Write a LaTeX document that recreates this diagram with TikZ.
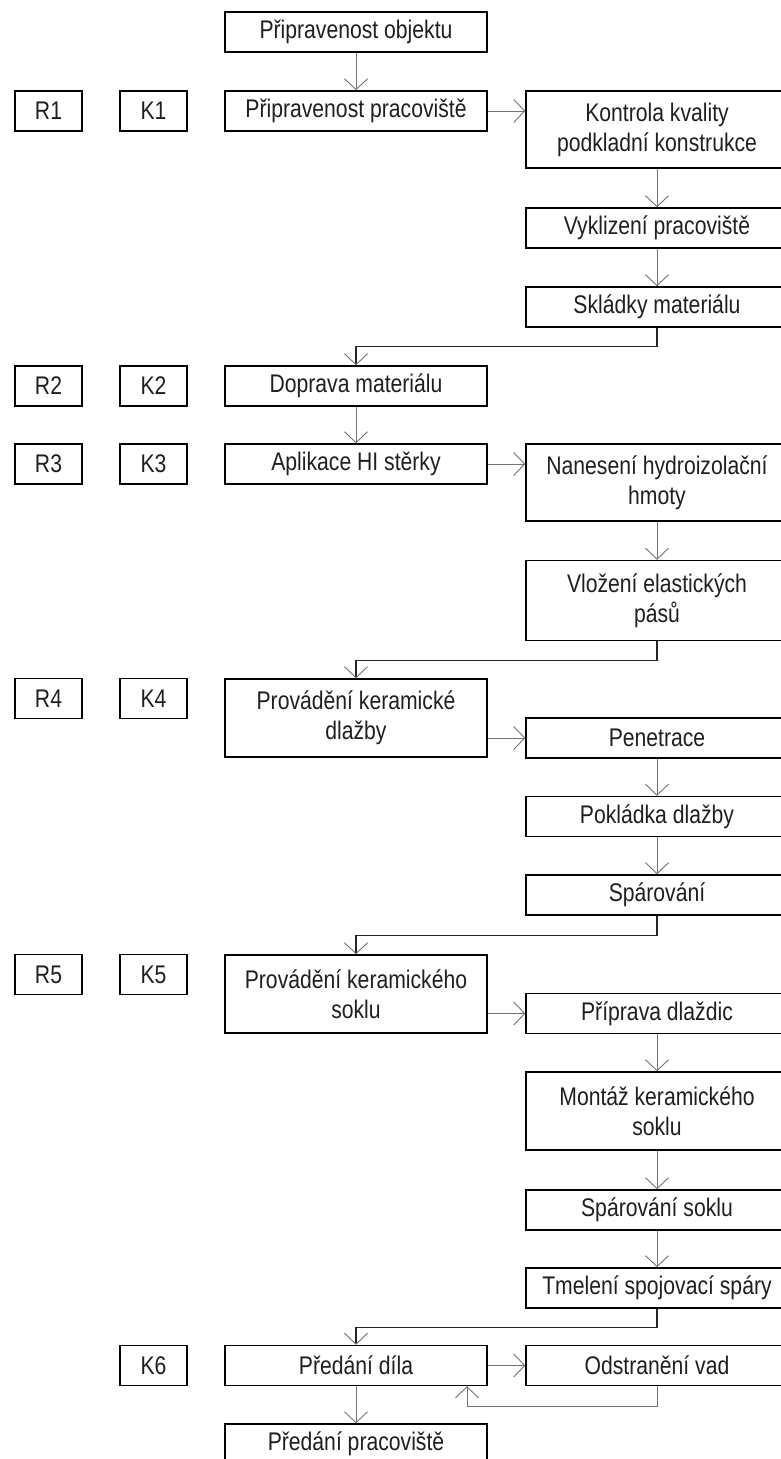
\documentclass[tikz,border=0pt]{standalone}
\usepackage{fontspec}
\setmainfont[FakeStretch=0.83]{Liberation Sans}
\usetikzlibrary{arrows.meta}
\begin{document}
\begin{tikzpicture}[x=1pt,y=-1pt,
  box/.style={draw=black, line width=1.4pt, minimum width=262pt, inner sep=0pt, align=center, text=black!88, font=\fontsize{25.5}{30}\selectfont},
  one/.style={box, minimum height=40pt},
  two/.style={box, minimum height=78pt},
  tag/.style={box, minimum width=67pt, minimum height=40pt},
  arr/.style={draw=black!55, line width=0.9pt, -{Straight Barb[length=11pt,width=23pt,line width=0.9pt]}},
  elb/.style={draw=black!85, line width=1.3pt, -{Straight Barb[length=11pt,width=23pt,line width=0.9pt,color=black!55]}}
]
\clip (0,0) rectangle (781,1459);
% left column
\node[one] (obj) at (356,32) {Připravenost objektu};
\node[one] (pp)  at (356,111) {Připravenost pracoviště};
\node[tag] (r1) at (48.5,111) {R1};
\node[tag] (k1) at (153.5,111) {K1};
\node[box, minimum height=77pt] (kk) at (657,129.5) {Kontrola kvality\\podkladní konstrukce};
\node[one] (vy) at (657,228) {Vyklizení pracoviště};
\node[one] (sk) at (657,307) {Skládky materiálu};
\node[one] (dm) at (356,386) {Doprava materiálu};
\node[tag] (r2) at (48.5,386) {R2};
\node[tag] (k2) at (153.5,386) {K2};
\node[one] (hi) at (356,464) {Aplikace HI stěrky};
\node[tag] (r3) at (48.5,464) {R3};
\node[tag] (k3) at (153.5,464) {K3};
\node[box, minimum height=77pt] (nh) at (657,482.5) {Nanesení hydroizolační\\hmoty};
\node[box, minimum height=80pt] (ve) at (657,600.5) {Vložení elastických\\pásů};
\node[two] (pd) at (356,718) {Provádění keramické\\dlažby};
\node[tag] (r4) at (48.5,698.5) {R4};
\node[tag] (k4) at (153.5,698.5) {K4};
\node[one] (pe) at (657,738) {Penetrace};
\node[one] (po) at (657,816.5) {Pokládka dlažby};
\node[one] (sp) at (657,895) {Spárování};
\node[two] (ps) at (356,994) {Provádění keramického\\soklu};
\node[tag] (r5) at (48.5,974.5) {R5};
\node[tag] (k5) at (153.5,974.5) {K5};
\node[one] (pr) at (657,1013.5) {Příprava dlaždic};
\node[two] (mo) at (657,1111) {Montáž keramického\\soklu};
\node[one] (ss) at (657,1210) {Spárování soklu};
\node[one] (tm) at (657,1288) {Tmelení spojovací spáry};
\node[one] (dd) at (356,1365.5) {Předání díla};
\node[tag] (k6) at (153.5,1365.5) {K6};
\node[one] (ov) at (657,1365.5) {Odstranění vad};
\node[one] (pp2) at (356,1444) {Předání pracoviště};
% connectors
\draw[arr] (obj.south) -- (pp.north);
\draw[arr] (pp.east) -- (pp.east -| kk.west);
\draw[arr] (kk.south) -- (vy.north);
\draw[arr] (vy.south) -- (sk.north);
\draw[elb] (sk.south) -- ++(0,19) -| (dm.north);
\draw[arr] (dm.south) -- (hi.north);
\draw[arr] (hi.east) -- (hi.east -| nh.west);
\draw[arr] (nh.south) -- (ve.north);
\draw[elb] (ve.south) -- ++(0,19) -| (pd.north);
\draw[arr] (pd.east |- pe.west) -- (pe.west);
\draw[arr] (pe.south) -- (po.north);
\draw[arr] (po.south) -- (sp.north);
\draw[elb] (sp.south) -- ++(0,20) -| (ps.north);
\draw[arr] (ps.east |- pr.west) -- (pr.west);
\draw[arr] (pr.south) -- (mo.north);
\draw[arr] (mo.south) -- (ss.north);
\draw[arr] (ss.south) -- (tm.north);
\draw[elb] (tm.south) -- ++(0,19) -| (dd.north);
\draw[arr] (dd.east) -- (ov.west);
\coordinate (ret) at ([xshift=111pt]dd.south);
\draw[arr] (ov.south) -- ++(0,20) -| (ret);
\draw[arr] (dd.south) -- (pp2.north);
\end{tikzpicture}
\end{document}
